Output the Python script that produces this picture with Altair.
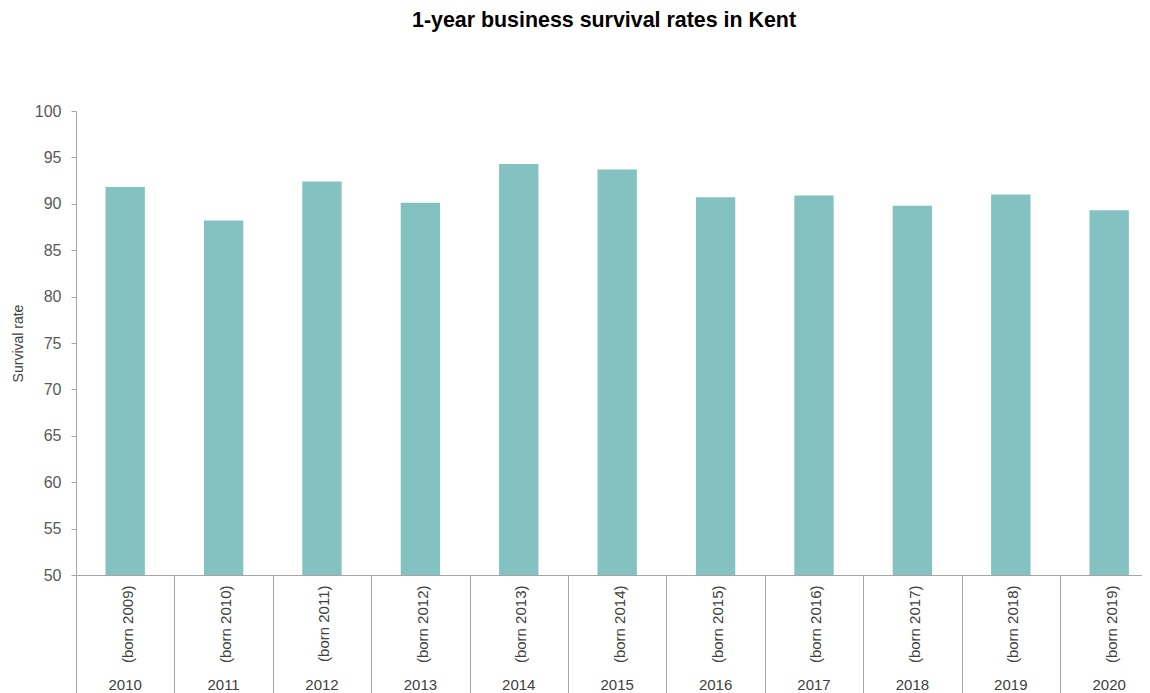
import altair as alt
import pandas as pd

years = ["2010", "2011", "2012", "2013", "2014", "2015", "2016", "2017", "2018", "2019", "2020"]
born = ["2009", "2010", "2011", "2012", "2013", "2014", "2015", "2016", "2017", "2018", "2019"]
rates = [91.8, 88.2, 92.4, 90.1, 94.3, 93.7, 90.7, 90.9, 89.8, 91.0, 89.3]
y_ticks = [50, 55, 60, 65, 70, 75, 80, 85, 90, 95, 100]

df = pd.DataFrame({"year": years, "born": born, "rate": rates})

W = 1066
H = 464
FONT = "Liberation Sans"
GREY = "#a6a6a6"
LABEL = "#404040"
TICK = 118
STEP = 98.4

born_map = "{" + ",".join(f"'{y}':'(born {b})'" for y, b in zip(years, born)) + "}"

x_axis = alt.Axis(
    title=None,
    labelExpr=born_map + "[datum.value]",
    labelAngle=270,
    labelAlign="right",
    labelBaseline="middle",
    labelPadding=10 - TICK,
    tickSize=TICK,
    tickOffset=-STEP / 2,
    labelOffset=STEP / 2 + 2,
    tickColor=GREY,
    domainColor=GREY,
    labelFontSize=15,
    labelFont=FONT,
    labelColor=LABEL,
)
x_scale = alt.Scale(paddingInner=0.6, paddingOuter=0.2166, align=0.692)

bars = alt.Chart(df).mark_bar(color="#83c2c1").encode(
    x=alt.X("year:N", sort=years, scale=x_scale, axis=x_axis),
    y=alt.Y(
        "rate:Q",
        scale=alt.Scale(domain=[50, 100], nice=False, zero=False),
        axis=alt.Axis(
            title="Survival rate",
            values=y_ticks,
            tickSize=5,
            labelPadding=10,
            grid=False,
            tickColor=GREY,
            domainColor=GREY,
            labelFontSize=16,
            labelFont=FONT,
            labelColor="#595959",
            titleFont=FONT,
            titleFontSize=14,
            titleFontWeight="normal",
            titleColor=LABEL,
            titlePadding=9,
        ),
    ),
    y2=alt.datum(50),
)

year_text = alt.Chart(df).mark_text(
    fontSize=15, font=FONT, color=LABEL, baseline="middle"
).encode(
    x=alt.X("year:N", sort=years, scale=x_scale, axis=x_axis),
    y=alt.value(H + 110),
    text="year:N",
)

chart = (
    alt.layer(bars, year_text)
    .properties(
        width=W,
        height=H,
        title=alt.TitleParams(
            "1-year business survival rates in Kent",
            font=FONT,
            fontSize=21.4,
            fontWeight="bold",
            color="black",
            anchor="middle",
            baseline="alphabetic",
            offset=55,
            dx=-5,
        ),
        padding={"left": 68, "top": 103, "right": 0, "bottom": TICK},
        autosize=alt.AutoSizeParams(type="none"),
    )
    .configure_view(stroke=None)
)

chart.save("out.html", embed_options={"renderer": "svg", "actions": False})
